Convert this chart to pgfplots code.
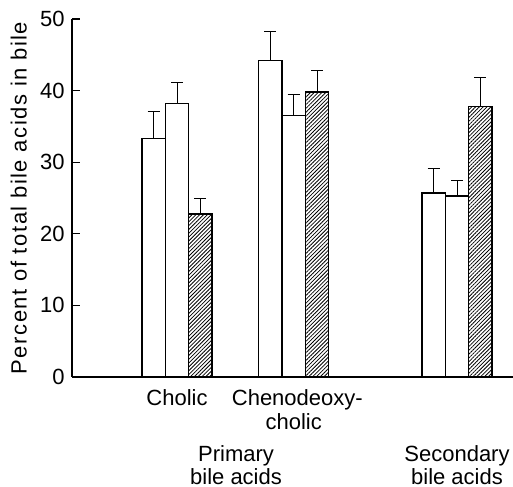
\documentclass[border=0pt]{standalone}
\usepackage{fontspec}
\setmainfont{Liberation Sans}
\newfontfamily\ylabfont[LetterSpace=7]{Liberation Sans}
\usepackage{pgfplots}
\pgfplotsset{compat=1.18}
\usetikzlibrary{patterns.meta}

\begin{document}
\begin{tikzpicture}
\begin{axis}[
    name=ax,
    scale only axis,
    width=220.5pt,
    height=179pt,
    xmin=0, xmax=18.9,
    ymin=0, ymax=50,
    axis lines*=left,
    axis line style={line width=0.6pt},
    ytick={0,10,...,50},
    tick align=inside,
    major tick length=4pt,
    tick style={line width=0.6pt, black},
    /pgf/number format/assume math mode=true,
    yticklabel style={inner sep=0pt, xshift=-3.5pt, font=\fontsize{11}{13}\selectfont},
    xtick={4.5,9.5},
    xticklabels={Cholic,{Chenodeoxy\rlap{-}\\cholic}},
    x tick style={draw=none},
    xticklabel style={inner sep=0pt, align=center, anchor=north, yshift=-6.1pt,
        font=\fontsize{11}{11.8}\selectfont},
    extra x ticks={7.03,16.5},
    extra x tick labels={{Primary\\bile acids},{Secondary\\bile acids}},
    extra x tick style={major tick length=0pt,
        xticklabel style={yshift=-28pt, font=\fontsize{11}{10}\selectfont}},
    ylabel={\ylabfont Percent of total bile acids in bile},
    ylabel style={at={(axis description cs:-0.1027,0.5)}, anchor=base,
        inner sep=0pt, font=\fontsize{11}{13}\selectfont},
    bar width=1,
]
% open bars, first of each group
\addplot[ybar, bar shift=0pt, draw=black, fill=white, line width=0.8pt,
    error bars/.cd, y dir=plus, y explicit,
    error bar style={line width=0.5pt},
    error mark options={line width=0.5pt, mark size=3pt, rotate=90}]
coordinates {(3.5,33.3) +- (0,3.8) (8.5,44.2) +- (0,4.0) (15.5,25.7) +- (0,3.35)};
% open bars, second of each group
\addplot[ybar, bar shift=0pt, draw=black, fill=white, line width=0.8pt,
    error bars/.cd, y dir=plus, y explicit,
    error bar style={line width=0.5pt},
    error mark options={line width=0.5pt, mark size=3pt, rotate=90}]
coordinates {(4.5,38.2) +- (0,2.9) (9.5,36.5) +- (0,3.0) (16.5,25.3) +- (0,2.1)};
% hatched bars
\addplot[ybar, bar shift=0pt, draw=black, line width=0.8pt,
    pattern={Lines[angle=45,distance=1.35pt,line width=0.4pt]},
    error bars/.cd, y dir=plus, y explicit,
    error bar style={line width=0.5pt},
    error mark options={line width=0.5pt, mark size=3pt, rotate=90}]
coordinates {(5.5,22.8) +- (0,2.1) (10.5,39.8) +- (0,3.0) (17.5,37.75) +- (0,4.05)};
\end{axis}
\pgfresetboundingbox
\path ([xshift=-36pt,yshift=-55pt]ax.south west) rectangle ([yshift=9.5pt]ax.north east);
\end{tikzpicture}
\end{document}
